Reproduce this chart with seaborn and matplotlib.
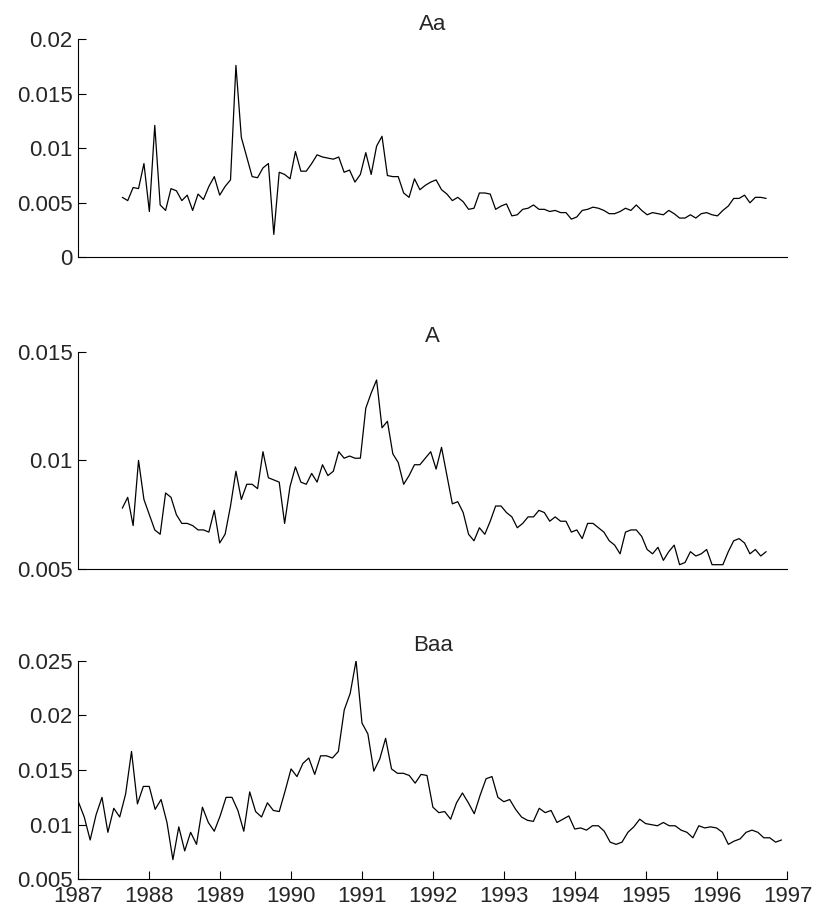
import numpy as np
import pandas as pd
import seaborn as sns
import matplotlib.pyplot as plt

# default spreads by rating
aa = [0.0055, 0.0052, 0.0064, 0.0063, 0.0086, 0.0042, 0.0121, 0.0048, 0.0043, 0.0063,
      0.0061, 0.0052, 0.0057, 0.0043, 0.0058, 0.0053, 0.0065, 0.0074, 0.0057, 0.0065,
      0.0071, 0.0176, 0.0110, 0.0092, 0.0074, 0.0073, 0.0082, 0.0086, 0.0021, 0.0078,
      0.0076, 0.0072, 0.0097, 0.0079, 0.0079, 0.0086, 0.0094, 0.0092, 0.0091, 0.0090,
      0.0092, 0.0078, 0.0080, 0.0069, 0.0076, 0.0096, 0.0076, 0.0102, 0.0111, 0.0075,
      0.0074, 0.0074, 0.0059, 0.0055, 0.0072, 0.0062, 0.0066, 0.0069, 0.0071, 0.0062,
      0.0058, 0.0052, 0.0055, 0.0051, 0.0044, 0.0045, 0.0059, 0.0059, 0.0058, 0.0044,
      0.0047, 0.0049, 0.0038, 0.0039, 0.0044, 0.0045, 0.0048, 0.0044, 0.0044, 0.0042,
      0.0043, 0.0041, 0.0041, 0.0035, 0.0037, 0.0043, 0.0044, 0.0046, 0.0045, 0.0043,
      0.0040, 0.0040, 0.0042, 0.0045, 0.0043, 0.0048, 0.0043, 0.0039, 0.0041, 0.0040,
      0.0039, 0.0043, 0.0040, 0.0036, 0.0036, 0.0039, 0.0036, 0.0040, 0.0041, 0.0039,
      0.0038, 0.0043, 0.0047, 0.0054, 0.0054, 0.0057, 0.0050, 0.0055, 0.0055, 0.0054]

a = [0.0078, 0.0083, 0.0070, 0.0100, 0.0082, 0.0075, 0.0068, 0.0066, 0.0085, 0.0083,
     0.0075, 0.0071, 0.0071, 0.0070, 0.0068, 0.0068, 0.0067, 0.0077, 0.0062, 0.0066,
     0.0079, 0.0095, 0.0082, 0.0089, 0.0089, 0.0087, 0.0104, 0.0092, 0.0091, 0.0090,
     0.0071, 0.0088, 0.0097, 0.0090, 0.0089, 0.0094, 0.0090, 0.0098, 0.0093, 0.0095,
     0.0104, 0.0101, 0.0102, 0.0101, 0.0101, 0.0124, 0.0131, 0.0137, 0.0115, 0.0118,
     0.0103, 0.0099, 0.0089, 0.0093, 0.0098, 0.0098, 0.0101, 0.0104, 0.0096, 0.0106,
     0.0093, 0.0080, 0.0081, 0.0076, 0.0066, 0.0063, 0.0069, 0.0066, 0.0072, 0.0079,
     0.0079, 0.0076, 0.0074, 0.0069, 0.0071, 0.0074, 0.0074, 0.0077, 0.0076, 0.0072,
     0.0074, 0.0072, 0.0072, 0.0067, 0.0068, 0.0064, 0.0071, 0.0071, 0.0069, 0.0067,
     0.0063, 0.0061, 0.0057, 0.0067, 0.0068, 0.0068, 0.0065, 0.0059, 0.0057, 0.0060,
     0.0054, 0.0058, 0.0061, 0.0052, 0.0053, 0.0058, 0.0056, 0.0057, 0.0059, 0.0052,
     0.0052, 0.0052, 0.0058, 0.0063, 0.0064, 0.0062, 0.0057, 0.0059, 0.0056, 0.0058]

baa = [0.0121, 0.0107, 0.0086, 0.0109, 0.0125, 0.0093, 0.0115, 0.0107, 0.0128, 0.0167,
       0.0119, 0.0135, 0.0135, 0.0114, 0.0123, 0.0102, 0.0068, 0.0098, 0.0076, 0.0093,
       0.0082, 0.0116, 0.0102, 0.0094, 0.0108, 0.0125, 0.0125, 0.0113, 0.0094, 0.0130,
       0.0112, 0.0107, 0.0120, 0.0113, 0.0112, 0.0131, 0.0151, 0.0144, 0.0156, 0.0161,
       0.0146, 0.0163, 0.0163, 0.0161, 0.0167, 0.0205, 0.0220, 0.0250, 0.0193, 0.0183,
       0.0149, 0.0160, 0.0179, 0.0151, 0.0147, 0.0147, 0.0145, 0.0138, 0.0146, 0.0145,
       0.0116, 0.0111, 0.0112, 0.0105, 0.0120, 0.0129, 0.0120, 0.0110, 0.0127, 0.0142,
       0.0144, 0.0125, 0.0121, 0.0123, 0.0114, 0.0107, 0.0104, 0.0103, 0.0115, 0.0111,
       0.0113, 0.0102, 0.0105, 0.0108, 0.0096, 0.0097, 0.0095, 0.0099, 0.0099, 0.0094,
       0.0084, 0.0082, 0.0084, 0.0093, 0.0098, 0.0105, 0.0101, 0.0100, 0.0099, 0.0102,
       0.0099, 0.0099, 0.0095, 0.0093, 0.0088, 0.0099, 0.0097, 0.0098, 0.0097, 0.0093,
       0.0082, 0.0085, 0.0087, 0.0093, 0.0095, 0.0093, 0.0088, 0.0088, 0.0084, 0.0086]

# time axes (years): Aa and A start later than Baa
t_short = np.linspace(1987.62, 1996.70, len(aa))
t_baa = 1987 + np.arange(len(baa)) / 12

titles = ['Aa', 'A', 'Baa']
years = list(range(1987, 1998))
yticks = [[0, 0.005, 0.01, 0.015, 0.02],
          [0.005, 0.01, 0.015],
          [0.005, 0.01, 0.015, 0.02, 0.025]]
ylabels = [['0', '0.005', '0.01', '0.015', '0.02'],
           ['0.005', '0.01', '0.015'],
           ['0.005', '0.01', '0.015', '0.02', '0.025']]

panels = [pd.DataFrame({'t': t_short, 'v': aa}),
          pd.DataFrame({'t': t_short, 'v': a}),
          pd.DataFrame({'t': t_baa, 'v': baa})]

sns.set_style('white')
plt.rcParams['font.family'] = ['Liberation Sans', 'DejaVu Sans']

fig = plt.figure(figsize=(8.16, 9.15), dpi=100)
boxes = [[0.096, 0.7188, 0.869, 0.2383],
         [0.096, 0.3781, 0.869, 0.2375],
         [0.096, 0.0390, 0.869, 0.2389]]

for i, df in enumerate(panels):
    ax = fig.add_axes(boxes[i])
    sns.lineplot(data=df, x='t', y='v', ax=ax, color='black', linewidth=0.9)
    ax.set_xlim(1987, 1997)
    ax.set_ylim(yticks[i][0], yticks[i][-1])
    ax.set_yticks(yticks[i])
    ax.set_yticklabels(ylabels[i])
    ax.set_xlabel('')
    ax.set_ylabel('')
    ax.set_title(titles[i], fontsize=16, pad=7)
    for s in ['top', 'right']:
        ax.spines[s].set_visible(False)
    for s in ['left', 'bottom']:
        ax.spines[s].set_color('black')
        ax.spines[s].set_linewidth(0.8)
    ax.tick_params(direction='in', length=5.5, width=0.8, color='black',
                   labelsize=16, pad=4, left=True)
    if i < 2:
        ax.set_xticks([])
    else:
        ax.set_xticks(years)
        ax.set_xticklabels([str(y) for y in years])
        ax.tick_params(axis='x', bottom=True, pad=5)

fig.savefig('out.png', dpi=100)
